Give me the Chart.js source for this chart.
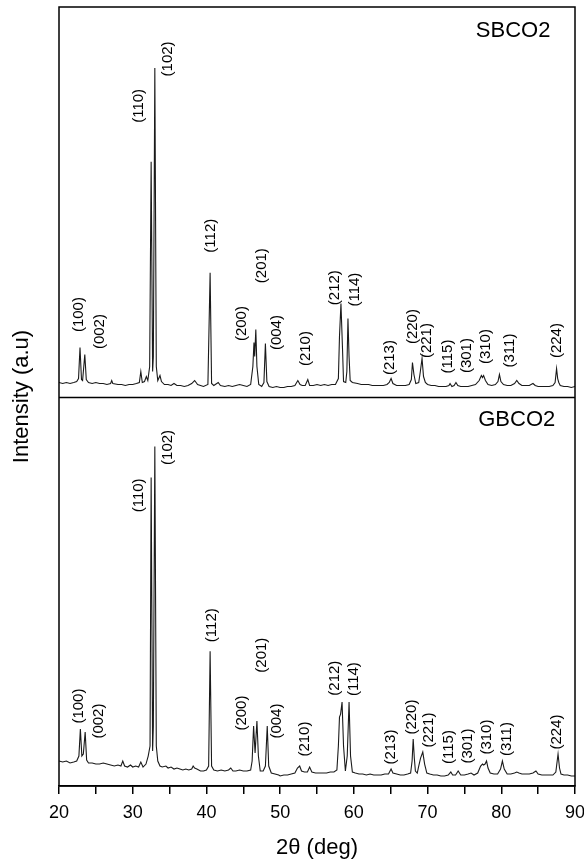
<!DOCTYPE html>
<html>
<head>
<meta charset="utf-8">
<script src="https://cdn.jsdelivr.net/npm/chart.js@4.4.1/dist/chart.umd.min.js"></script>
<style>
  html, body { margin: 0; padding: 0; background: #fff; }
  .chart-wrap { position: relative; width: 584px; height: 861px; }
</style>
</head>
<body>
<div class="chart-wrap"><canvas id="xrdChart"></canvas></div>
<script>
// SBCO2 pattern (top panel)
const sbcoTheta = [
  20.0, 20.5, 21.0, 21.5, 22.0, 22.4, 22.65, 22.85, 23.05, 23.2,
  23.5, 23.7, 24.0, 24.5, 25.0, 25.5, 26.0, 26.5, 27.0, 27.15,
  27.3, 28.0, 28.5, 29.0, 29.5, 30.0, 30.5, 30.9, 31.1, 31.3,
  31.6, 31.85, 32.05, 32.3, 32.5, 32.7, 32.8, 33.0, 33.2, 33.4,
  33.7, 33.9, 34.3, 34.8, 35.2, 35.6, 36.0, 36.5, 37.0, 37.5,
  38.0, 38.4, 38.8, 39.2, 39.6, 40.2, 40.5, 40.7, 41.0, 41.6,
  41.9, 42.5, 43.0, 43.5, 44.0, 44.5, 45.0, 45.5, 46.0, 46.3,
  46.45, 46.55, 46.7, 46.85, 47.1, 47.5, 47.8, 48.0, 48.2, 48.5,
  49.0, 49.5, 50.0, 50.5, 51.0, 51.5, 52.0, 52.4, 52.7, 53.0,
  53.4, 53.75, 54.0, 54.5, 55.0, 55.5, 56.0, 56.5, 57.0, 57.5,
  57.9, 58.05, 58.25, 58.45, 58.6, 58.9, 59.05, 59.2, 59.35, 59.5,
  59.8, 60.5, 61.0, 61.5, 62.0, 62.5, 63.0, 63.5, 64.0, 64.5,
  64.8, 65.05, 65.3, 65.8, 66.5, 67.0, 67.5, 67.8, 67.95, 68.15,
  68.4, 68.8, 69.0, 69.25, 69.45, 69.7, 70.0, 70.5, 71.0, 71.5,
  72.0, 72.5, 72.9, 73.05, 73.3, 73.6, 73.85, 74.1, 74.5, 75.0,
  75.5, 76.0, 76.5, 77.0, 77.3, 77.45, 77.6, 77.85, 78.2, 78.7,
  79.2, 79.55, 79.75, 79.95, 80.3, 80.8, 81.3, 81.8, 82.1, 82.4,
  82.8, 83.3, 83.8, 84.3, 84.6, 85.0, 85.5, 86.0, 86.5, 87.0,
  87.3, 87.5, 87.65, 87.8, 88.0, 88.5, 89.0, 89.5, 90.0
];
const sbcoIntensity = [
  14, 13, 14, 13, 14, 15, 18, 49, 17, 16,
  42, 17, 14, 13, 14, 13, 13, 12, 13, 16,
  13, 12, 12, 11, 12, 12, 13, 14, 25, 14,
  15, 20, 16, 30, 235, 25, 40, 329, 30, 16,
  21, 15, 12, 12, 11, 13, 11, 11, 10, 11,
  13, 16, 12, 11, 10, 12, 124, 13, 11, 14,
  11, 10, 11, 10, 11, 12, 11, 10, 12, 30,
  54, 40, 67, 30, 12, 10, 14, 53, 15, 10,
  9, 10, 9, 9, 10, 10, 11, 16, 12, 11,
  11, 17, 11, 11, 12, 11, 12, 11, 12, 12,
  18, 60, 93, 50, 15, 14, 25, 78, 40, 16,
  14, 13, 12, 12, 12, 11, 11, 11, 11, 12,
  14, 18, 13, 11, 11, 11, 12, 17, 34, 22,
  13, 14, 24, 38, 20, 14, 12, 11, 11, 10,
  10, 10, 11, 13, 10, 11, 14, 11, 10, 10,
  10, 11, 12, 16, 21, 19, 21, 16, 12, 11,
  12, 15, 22, 15, 12, 11, 11, 13, 16, 13,
  11, 11, 11, 13, 11, 10, 10, 10, 10, 11,
  14, 28, 18, 14, 11, 10, 10, 9, 10
];

// GBCO2 pattern (bottom panel)
const gbcoTheta = [
  20.0, 20.5, 21.0, 21.5, 22.0, 22.4, 22.7, 22.9, 23.1, 23.3,
  23.55, 23.75, 24.0, 24.5, 25.0, 25.5, 26.0, 26.5, 27.0, 27.5,
  28.0, 28.4, 28.65, 28.9, 29.3, 29.7, 30.0, 30.4, 30.8, 31.1,
  31.4, 31.8, 32.1, 32.35, 32.5, 32.7, 32.8, 33.0, 33.2, 33.4,
  33.7, 34.0, 34.5, 34.8, 35.2, 35.6, 36.0, 36.4, 36.8, 37.2,
  37.6, 38.0, 38.2, 38.4, 38.7, 39.2, 39.6, 40.0, 40.3, 40.5,
  40.7, 41.0, 41.5, 42.0, 42.5, 43.0, 43.3, 43.6, 44.0, 44.5,
  45.0, 45.5, 46.0, 46.2, 46.4, 46.6, 46.85, 47.05, 47.3, 47.7,
  48.0, 48.25, 48.45, 48.8, 49.3, 49.8, 50.0, 50.5, 51.0, 51.5,
  52.0, 52.35, 52.65, 52.9, 53.3, 53.7, 54.0, 54.3, 54.8, 55.3,
  55.8, 56.3, 56.8, 57.3, 57.7, 57.9, 58.05, 58.2, 58.4, 58.6,
  58.85, 59.1, 59.35, 59.55, 59.8, 60.2, 60.7, 61.2, 61.7, 62.2,
  62.7, 63.2, 63.7, 64.2, 64.7, 65.05, 65.3, 65.8, 66.3, 66.8,
  67.3, 67.7, 67.9, 68.05, 68.2, 68.35, 68.6, 68.8, 69.05, 69.35,
  69.6, 69.9, 70.3, 70.8, 71.3, 71.8, 72.3, 72.8, 73.15, 73.4,
  73.8, 74.15, 74.5, 75.0, 75.5, 75.9, 76.3, 76.8, 77.2, 77.45,
  77.6, 77.8, 78.0, 78.2, 78.5, 79.0, 79.5, 79.9, 80.15, 80.4,
  80.8, 81.3, 81.8, 82.1, 82.4, 82.8, 83.3, 83.8, 84.3, 84.7,
  85.0, 85.5, 86.0, 86.5, 87.0, 87.4, 87.7, 87.9, 88.1, 88.5,
  89.0, 89.5, 90.0
];
const gbcoIntensity = [
  25, 24, 25, 23, 24, 25, 30, 57, 30, 32,
  54, 26, 23, 23, 22, 22, 23, 22, 21, 20,
  21, 20, 25, 20, 19, 21, 19, 20, 19, 24,
  19, 22, 30, 40, 309, 35, 60, 340, 40, 25,
  20, 19, 20, 18, 19, 17, 18, 17, 16, 17,
  16, 17, 20, 18, 17, 15, 15, 16, 20, 135,
  20, 16, 15, 16, 15, 16, 18, 15, 15, 16,
  15, 15, 16, 25, 60, 33, 65, 30, 15, 15,
  20, 60, 20, 13, 12, 11, 10, 11, 11, 12,
  13, 18, 20, 15, 14, 14, 19, 14, 13, 13,
  13, 13, 14, 14, 16, 40, 69, 72, 84, 40,
  15, 30, 84, 30, 14, 13, 12, 12, 11, 12,
  11, 11, 11, 12, 12, 17, 13, 12, 11, 11,
  12, 13, 25, 47, 28, 15, 13, 20, 28, 34,
  22, 13, 12, 11, 11, 10, 10, 11, 14, 11,
  11, 15, 11, 11, 12, 13, 11, 13, 20, 22,
  21, 22, 25, 18, 13, 12, 12, 17, 25, 17,
  12, 12, 13, 14, 13, 12, 12, 12, 13, 15,
  12, 11, 11, 11, 11, 14, 32, 18, 12, 11,
  11, 10, 10
];

// Miller index labels, placed at (2theta, intensity level) in each panel
const hklLabels = ['(100)', '(002)', '(110)', '(102)', '(112)', '(200)', '(201)', '(004)', '(210)', '(212)',
                   '(114)', '(213)', '(220)', '(221)', '(115)', '(301)', '(310)', '(311)', '(224)'];
const sbcoLabelTheta = [22.71, 25.56, 30.85, 34.79, 40.62, 44.83, 47.54, 49.58, 53.51, 57.44,
                        60.16, 64.91, 68.03, 69.93, 72.77, 75.35, 77.93, 81.19, 87.56];
const sbcoLabelLevel = [82, 65, 291, 338, 161, 73, 131, 64, 48, 109, 107, 39, 70, 56, 40, 41, 50, 46, 56];
const gbcoLabelTheta = [22.71, 25.43, 30.85, 34.79, 40.76, 44.83, 47.54, 49.58, 53.37, 57.44,
                        60.02, 65.04, 67.89, 70.2, 72.91, 75.49, 78.07, 80.78, 87.56];
const gbcoLabelLevel = [80, 65, 291, 339, 161, 73, 131, 65, 47, 108, 107, 39, 69, 56, 39, 40, 49, 47, 54];

const sampleNames = ['SBCO2', 'GBCO2'];
const sampleNameTheta = [81.6, 82.1];
const sampleNameLevel = [366, 367];

const FONT = '"Liberation Sans", Arial, sans-serif';

function toPoints(xs, ys) {
  return xs.map((x, i) => ({ x, y: ys[i] }));
}

function drawUp(ctx, text, x, y) {
  ctx.save();
  ctx.translate(x, y);
  ctx.rotate(-Math.PI / 2);
  ctx.fillText(text, 0, 0);
  ctx.restore();
}

const panelDecor = {
  id: 'panelDecor',
  afterDatasetsDraw(chart) {
    const { ctx, chartArea: a, scales } = chart;
    const x = scales.x, yT = scales.yTop, yB = scales.yBottom;
    ctx.save();
    ctx.strokeStyle = '#000';
    ctx.lineWidth = 1.5;
    ctx.strokeRect(a.left, a.top, a.right - a.left, a.bottom - a.top);
    const mid = Math.round(yB.top) + 0.5;
    ctx.beginPath();
    ctx.moveTo(a.left, mid);
    ctx.lineTo(a.right, mid);
    ctx.stroke();

    ctx.fillStyle = '#000';
    ctx.textAlign = 'center';
    ctx.textBaseline = 'middle';
    ctx.font = '15px ' + FONT;
    hklLabels.forEach((t, i) => {
      drawUp(ctx, t, x.getPixelForValue(sbcoLabelTheta[i]), yT.getPixelForValue(sbcoLabelLevel[i]));
      drawUp(ctx, t, x.getPixelForValue(gbcoLabelTheta[i]), yB.getPixelForValue(gbcoLabelLevel[i]));
    });

    ctx.font = '22px ' + FONT;
    ctx.fillText(sampleNames[0], x.getPixelForValue(sampleNameTheta[0]), yT.getPixelForValue(sampleNameLevel[0]));
    ctx.fillText(sampleNames[1], x.getPixelForValue(sampleNameTheta[1]), yB.getPixelForValue(sampleNameLevel[1]));

    drawUp(ctx, 'Intensity (a.u)', 22, (a.top + a.bottom) / 2);
    ctx.restore();
  }
};

const lineStyle = {
  borderColor: '#1a1a1a',
  borderWidth: 1.1,
  pointRadius: 0,
  tension: 0,
  fill: false,
};

const hiddenY = {
  type: 'linear',
  position: 'left',
  stack: 'xrd',
  stackWeight: 1,
  min: 0,
  max: 390,
  ticks: { display: false },
  grid: { display: false },
  border: { display: false },
};

new Chart(document.getElementById('xrdChart'), {
  type: 'line',
  data: {
    datasets: [
      { label: 'SBCO2', data: toPoints(sbcoTheta, sbcoIntensity), yAxisID: 'yTop', ...lineStyle },
      { label: 'GBCO2', data: toPoints(gbcoTheta, gbcoIntensity), yAxisID: 'yBottom', ...lineStyle },
    ]
  },
  options: {
    responsive: true,
    maintainAspectRatio: false,
    animation: false,
    layout: { padding: { left: 51, right: 0, top: 7, bottom: 0 } },
    plugins: {
      legend: { display: false },
      tooltip: { enabled: false },
    },
    scales: {
      x: {
        type: 'linear',
        min: 20,
        max: 90,
        afterFit: scale => { scale.paddingRight = 9; },
        ticks: {
          stepSize: 5,
          color: '#000',
          padding: 8,
          font: { family: FONT, size: 18 },
          callback: v => (v % 10 === 0 ? v : ''),
        },
        grid: { display: true, drawOnChartArea: false, drawTicks: true, tickLength: 8, color: '#000', lineWidth: 1.5 },
        border: { display: true, color: '#000', width: 1.5 },
        title: {
          display: true,
          text: '2θ (deg)',
          color: '#000',
          font: { family: FONT, size: 22 },
          padding: { top: 3, bottom: 0 },
        },
      },
      // stacked axes are laid out last-defined on top
      yBottom: { ...hiddenY },
      yTop: { ...hiddenY },
    },
  },
  plugins: [panelDecor],
});
</script>
</body>
</html>
